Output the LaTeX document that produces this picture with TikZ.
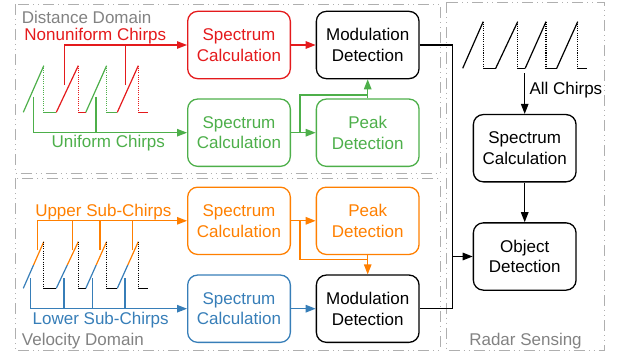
\documentclass[tikz,border=0pt]{standalone}
\usepackage{fontspec}
\setmainfont{Liberation Sans}
\usetikzlibrary{arrows.meta,calc}
\definecolor{cred}{RGB}{228,26,28}
\definecolor{cgreen}{RGB}{77,175,74}
\definecolor{corange}{RGB}{255,127,0}
\definecolor{cblue}{RGB}{55,126,184}
\definecolor{cframe}{RGB}{175,175,175}
\definecolor{ctext}{RGB}{130,130,130}
\begin{document}
\begin{tikzpicture}[x=1pt,y=-1pt,
  box/.style={draw=#1, text=#1, rounded corners=10pt, line width=1.3pt,
    minimum width=102.7pt, minimum height=67.3pt, align=center,
    font=\fontsize{17}{20.7}\selectfont, inner sep=0pt},
  box/.default=black,
  conn/.style={line width=1.2pt},
  arr/.style={conn, -{Triangle[length=10pt,width=7.5pt]}},
  frame/.style={draw=cframe, line width=0.9pt,
    dash pattern=on 11pt off 4pt on 1pt off 4pt on 1pt off 4pt},
  lbl/.style={font=\fontsize{17}{20}\selectfont, inner sep=0pt},
  wave/.style={line width=1.2pt},
  dots/.style={line width=1.2pt, dash pattern=on 1pt off 1.2pt}]
\useasboundingbox (0,0) rectangle (620,353);

% frames
\draw[frame] (15,4) rectangle (440,173.3);
\draw[frame] (15,178.3) rectangle (440,350);
\draw[frame] (446,2.5) rectangle (604.3,350);
\node[lbl, text=ctext, anchor=base west] (tdist) at (21.7,23.5) {Distance Domain};
\node[lbl, text=ctext, anchor=base west] (tvel) at (21.7,345.5) {Velocity Domain};
\node[lbl, text=ctext, anchor=base] (trad) at (525.5,345.5) {Radar Sensing};

% boxes
\node[box=cred] (specR) at (239,45) {Spectrum\\Calculation};
\node[box] (mod1) at (367.7,45) {Modulation\\Detection};
\node[box=cgreen] (specG) at (239,132.7) {Spectrum\\Calculation};
\node[box=cgreen] (peakG) at (367.7,132.7) {Peak\\Detection};
\node[box=corange] (specO) at (239,220.8) {Spectrum\\Calculation};
\node[box=corange] (peakO) at (367.7,220.8) {Peak\\Detection};
\node[box=cblue] (specB) at (239,308.7) {Spectrum\\Calculation};
\node[box] (mod2) at (367.7,308.7) {Modulation\\Detection};
\node[box] (specK) at (524.7,148.2) {Spectrum\\Calculation};
\node[box] (obj) at (524.7,256.5) {Object\\Detection};

% distance waveform
\foreach \s/\e/\f/\c in {0/20.5/33/cgreen, 33/55/62.5/cred, 62.5/83.3/94/cgreen, 94/115/124.5/cred} {
  \draw[wave,\c] ({23.3+\s},112.3) -- ({23.3+\e},65.7);
  \draw[dots,\c] ({23.3+\e},65.7) -- ({23.3+\e},112.3);
  \draw[wave,\c] ({23.3+\e},112.3) -- ({23.3+\f},112.3);
}
% velocity waveform
\foreach \s/\e/\f in {0/20.5/33, 33/55/62.5, 62.5/83.3/94, 94/115/124.5} {
  \draw[wave,cblue] ({23.3+\s},288.3) -- ({23.3+(\s+\e)/2},265);
  \draw[wave,corange] ({23.3+(\s+\e)/2},265) -- ({23.3+\e},241.7);
  \draw[dots] ({23.3+\e},241.7) -- ({23.3+\e},288.3);
  \draw[wave] ({23.3+\e},288.3) -- ({23.3+\f},288.3);
}
% all chirps waveform
\foreach \s/\e/\f in {0/20.5/33, 33/55/62.5, 62.5/83.3/94, 94/115/124.5} {
  \draw[wave] ({462.7+\s},68.3) -- ({462.7+\e},21.7);
  \draw[dots] ({462.7+\e},21.7) -- ({462.7+\e},68.3);
  \draw[wave] ({462.7+\e},68.3) -- ({462.7+\f},68.3);
}

% chirp labels
\node[lbl, text=cred, anchor=base] (tnon) at (95.3,40.7) {Nonuniform Chirps};
\node[lbl, text=cgreen, anchor=base] (tuni) at (108.3,147.7) {Uniform Chirps};
\node[lbl, text=corange, anchor=base] (tup) at (103.3,216.7) {Upper Sub-Chirps};
\node[lbl, text=cblue, anchor=base] (tlow) at (100.7,324.3) {Lower Sub-Chirps};
\node[lbl, anchor=base west] (tall) at (529.3,94.3) {All Chirps};

% red connectors
\coordinate (r1) at (64.3,85);
\coordinate (r2) at (125.7,85);
\draw[arr,cred] (r1) |- (specR.west);
\draw[conn,cred] (r2) -- (r2 |- specR.west);
% green connectors
\coordinate (g1) at (33.3,96.7);
\coordinate (g2) at (96,96.7);
\draw[arr,cgreen] (g1) |- (specG.west);
\draw[conn,cgreen] (g2) -- (g2 |- specG.west);
% orange connectors
\coordinate (u1) at (37.7,250);
\draw[arr,corange] (u1) |- (specO.west);
\foreach \x in {72.7,100,132.7} {
  \coordinate (u) at (\x,250);
  \draw[conn,corange] (u) -- (u |- specO.west);
}
% blue connectors
\coordinate (l1) at (30.7,278.3);
\draw[arr,cblue] (l1) |- (specB.west);
\foreach \x in {64,92.7,125} {
  \coordinate (l) at (\x,278.3);
  \draw[conn,cblue] (l) -- (l |- specB.west);
}

% processing chains
\draw[arr,cred] (specR) -- (mod1);
\draw[arr,cgreen] (specG) -- (peakG);
\draw[arr,cgreen] (peakG) -- (mod1);
\coordinate (gb) at ($(specG.east)+(9,0)$);
\coordinate (gj) at (367.7,95);
\draw[conn,cgreen] (gb) |- (gj);
\draw[arr,corange] (specO) -- (peakO);
\draw[arr,corange] (peakO) -- (mod2);
\coordinate (ob) at ($(specO.east)+(9,0)$);
\coordinate (oj) at (367.7,259.3);
\draw[conn,corange] (ob) |- (oj);
\draw[arr,cblue] (specB) -- (mod2);

% radar sensing
\coordinate (bx) at (452.3,0);
\draw[conn] (mod1.east) -| (bx |- mod2.east) -- (mod2.east);
\draw[arr] (bx |- obj.west) -- (obj.west);
\coordinate (ac) at (524.7,73.3);
\draw[arr] (ac) -- (specK.north);
\draw[arr] (specK) -- (obj);
\end{tikzpicture}
\end{document}
